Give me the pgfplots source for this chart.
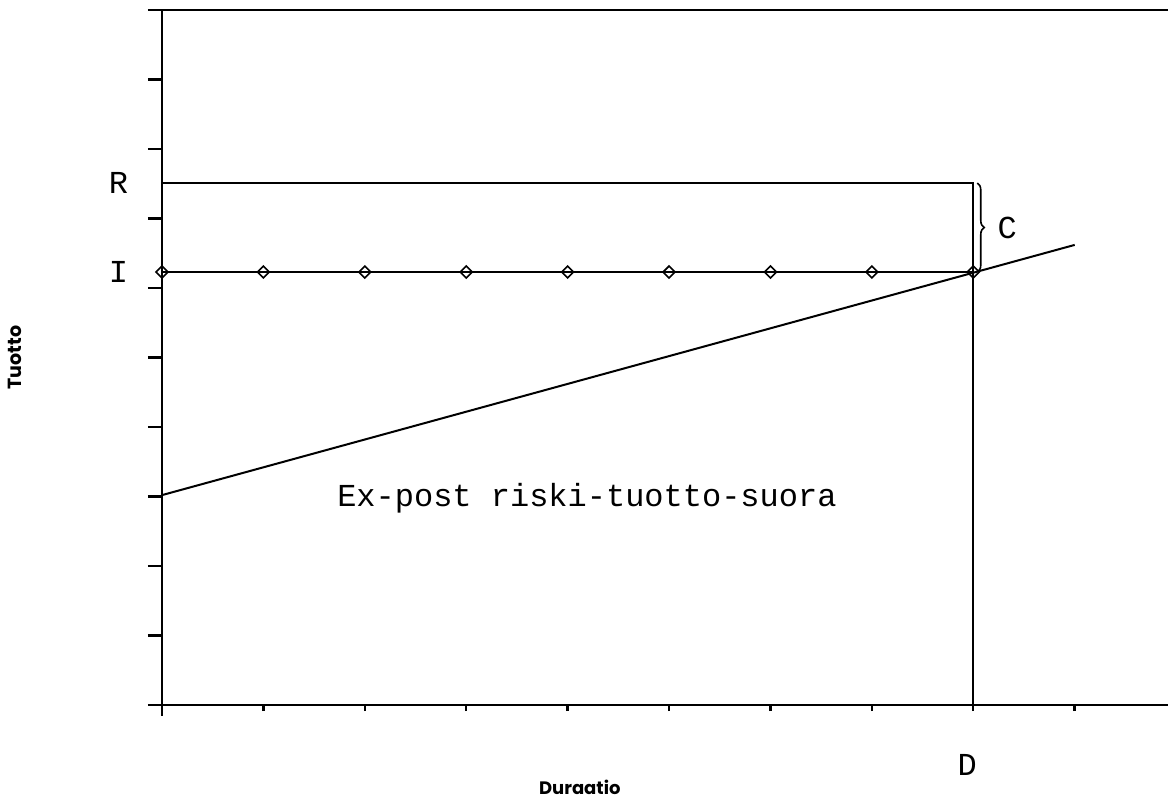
\documentclass[border=0pt]{standalone}
\usepackage{pgfplots}
\pgfplotsset{compat=1.18}
\usepackage{fontspec}
\newfontfamily\cour{Liberation Mono}
\newfontfamily\lab{Poppins}
\usetikzlibrary{decorations.pathreplacing}
\begin{document}
\begin{tikzpicture}
\begin{axis}[
  scale only axis, width=503pt, height=347.5pt,
  xmin=0, xmax=9.92, ymin=0, ymax=10,
  axis x line*=bottom, axis y line*=left,
  axis line style={line width=1.1pt, -},
  xtick={0,...,9}, ytick={0,...,9},
  xticklabels={}, yticklabels={},
  tick align=outside,
  xtick style={black, line width=1.2pt, /pgfplots/major tick length=3pt},
  ytick style={black, line width=1.2pt, /pgfplots/major tick length=7pt},
  clip=false,
]
\coordinate (bl) at (rel axis cs:0,0);
\addplot[line width=1pt] coordinates {(0,7.51) (8,7.51) (8,0)};
\addplot[line width=1pt] coordinates {(0,3.02) (9,6.62)};
\addplot[line width=1pt, mark=square, mark size=2.1pt,
  mark options={rotate=45, solid, line width=0.8pt}]
  coordinates {(0,6.23) (1,6.23) (2,6.23) (3,6.23) (4,6.23) (5,6.23) (6,6.23) (7,6.23) (8,6.23)};
\draw[line width=1.1pt] ([xshift=-7pt]axis cs:0,10) -- (axis cs:9.92,10);
\draw[line width=1.1pt] (axis cs:0,0) -- ([yshift=-5.5pt]axis cs:0,0);
\draw[line width=0.8pt, decorate, decoration={brace, amplitude=3.5pt}]
  ([xshift=2pt]axis cs:8,7.51) -- ([xshift=2pt]axis cs:8,6.23);
\node[font=\cour\fontsize{16}{16}\selectfont] at (axis cs:4.19,2.98) {Ex-post riski-tuotto-suora};
\node[font=\cour\fontsize{16}{16}\selectfont] at (axis cs:-0.43,7.51) {R};
\node[font=\cour\fontsize{16}{16}\selectfont] at (axis cs:-0.43,6.23) {I};
\node[font=\cour\fontsize{16}{16}\selectfont, anchor=west] at (axis cs:8.17,6.86) {C};
\node[font=\cour\fontsize{16}{16}\selectfont] at (axis cs:7.94,-0.86) {D};
\node[font=\lab\bfseries\fontsize{9}{10}\selectfont] at (axis cs:4.12,-1.18) {Duraatio};
\node[font=\lab\bfseries\fontsize{9.5}{10}\selectfont, rotate=90] at (axis cs:-1.45,5.0) {Tuotto};
\end{axis}
\pgfresetboundingbox
\path[use as bounding box] ([shift={(-81pt,-47.5pt)}]bl) rectangle ([shift={(503pt,352.5pt)}]bl);
\end{tikzpicture}
\end{document}
